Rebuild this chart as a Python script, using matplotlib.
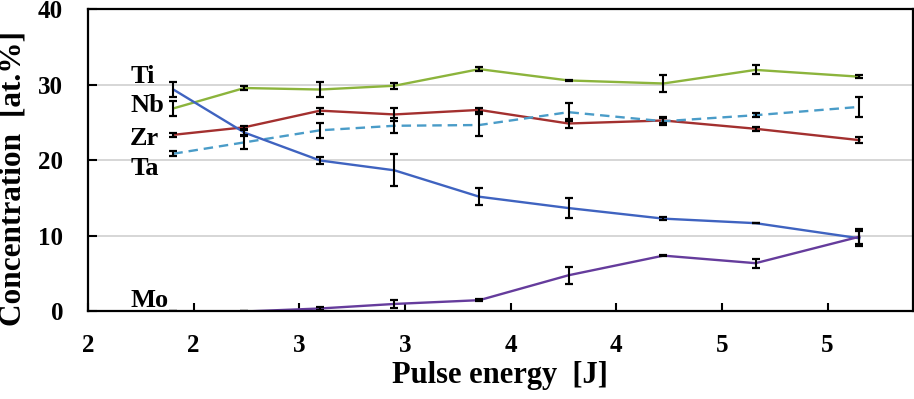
import matplotlib.pyplot as plt

# pulse energy positions of the measurements
energy = [2.404, 2.740, 3.098, 3.450, 3.852, 4.274, 4.723, 5.159, 5.650]

# concentrations [at.%] and error bars
ti = [29.4, 23.7, 20.0, 18.7, 15.2, 13.7, 12.3, 11.7, 9.7]
ti_err = [1.0, 0.3, 0.4, 2.1, 1.1, 1.3, 0.2, 0.0, 1.0]
nb = [26.9, 29.6, 29.4, 29.9, 32.1, 30.6, 30.2, 32.0, 31.1]
nb_err = [1.0, 0.3, 1.0, 0.4, 0.3, 0.1, 1.1, 0.6, 0.2]
zr = [23.4, 24.4, 26.6, 26.1, 26.7, 24.9, 25.3, 24.2, 22.7]
zr_err = [0.3, 0.2, 0.4, 0.9, 0.3, 0.6, 0.3, 0.3, 0.4]
ta = [20.9, 22.4, 24.0, 24.6, 24.7, 26.4, 25.2, 26.0, 27.1]
ta_err = [0.3, 0.9, 1.0, 1.0, 1.5, 1.2, 0.5, 0.3, 1.3]
mo = [0.0, 0.0, 0.4, 1.0, 1.5, 4.8, 7.4, 6.4, 9.9]
mo_err = [0.0, 0.0, 0.2, 0.5, 0.1, 1.1, 0.1, 0.6, 1.0]

xticks = [2.0, 2.5, 3.0, 3.5, 4.0, 4.5, 5.0, 5.5]
xtick_labels = ['2', '2', '3', '3', '4', '4', '5', '5']

# element names and where they sit (baseline value)
names = ['Ti', 'Nb', 'Zr', 'Ta', 'Mo']
name_y = [30.2, 26.4, 22.1, 18.1, 0.6]

plt.rcParams['font.family'] = ['Liberation Serif', 'DejaVu Serif']
plt.rcParams['font.weight'] = 'bold'

fig = plt.figure(figsize=(9.14, 3.99), dpi=100)
ax = fig.add_axes([0.0963, 0.2193, 0.9021, 0.7569])

series = [
    (nb, nb_err, '#8CB43C', '-'),
    (zr, zr_err, '#A3302F', '-'),
    (ta, ta_err, '#4A9CC8', (0, (4, 2.5))),
    (ti, ti_err, '#3F63C0', '-'),
    (mo, mo_err, '#653C9C', '-'),
]
for vals, errs, col, ls in series:
    ax.plot(energy, vals, color=col, lw=1.7, linestyle=ls, zorder=2)
for vals, errs, col, ls in series:
    ax.errorbar(energy, vals, yerr=errs, fmt='none', ecolor='black',
                elinewidth=1.5, capsize=2.8, capthick=1.6, zorder=3)

for name, yv in zip(names, name_y):
    ax.text(2.199, yv, name, fontsize=19, fontweight='bold', va='baseline', ha='left')

ax.set_xlim(2.0, 5.902)
ax.set_ylim(0, 40)
ax.set_yticks([0, 10, 20, 30, 40])
ax.set_xticks(xticks)
ax.set_xticklabels(xtick_labels)
ax.yaxis.grid(True, color='#d0d0d0', lw=1.2)
ax.set_axisbelow(True)

ax.tick_params(axis='y', direction='in', length=6.5, width=1.5, pad=18, labelsize=18)
ax.tick_params(axis='x', direction='in', length=6, width=1.5, pad=16.5, labelsize=18)
for s in ax.spines.values():
    s.set_linewidth(1.6)

ax.set_xlabel('Pulse energy  [J]', fontsize=22, fontweight='bold')
ax.set_ylabel('Concentration  [at.%]', fontsize=22.5, fontweight='bold')
ax.xaxis.set_label_coords(0.5, -0.164)
ax.yaxis.set_label_coords(-0.073, 0.442)

fig.savefig('out.png', dpi=100)
